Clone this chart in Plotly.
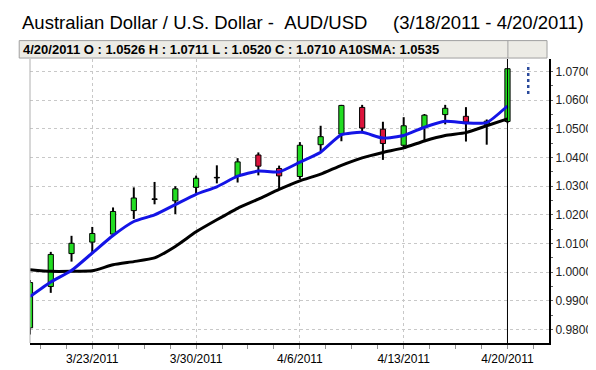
import plotly.graph_objects as go

# ---- data ----
dates = ["3/18/2011", "3/21/2011", "3/22/2011", "3/23/2011", "3/24/2011", "3/25/2011",
         "3/28/2011", "3/29/2011", "3/30/2011", "3/31/2011", "4/1/2011",
         "4/4/2011", "4/5/2011", "4/6/2011", "4/7/2011", "4/8/2011",
         "4/11/2011", "4/12/2011", "4/13/2011", "4/14/2011", "4/15/2011",
         "4/18/2011", "4/19/2011", "4/20/2011"]
opens = [0.9806, 0.9950, 1.0065, 1.0105, 1.0133, 1.0215, 1.0256, 1.0249, 1.0296, 1.0331, 1.0335,
         1.0409, 1.0362, 1.0334, 1.0445, 1.0482, 1.0575, 1.0499, 1.0443, 1.0505, 1.0550,
         1.0544, 1.0516, 1.0526]
highs = [0.9973, 1.0071, 1.0127, 1.0158, 1.0226, 1.0296, 1.0315, 1.0300, 1.0337, 1.0373, 1.0398,
         1.0418, 1.0372, 1.0454, 1.0511, 1.0584, 1.0584, 1.0525, 1.0541, 1.0552, 1.0584,
         1.0576, 1.0533, 1.0711]
lows = [0.9783, 0.9928, 1.0037, 1.0067, 1.0126, 1.0186, 1.0237, 1.0203, 1.0276, 1.0310, 1.0313,
        1.0338, 1.0291, 1.0325, 1.0423, 1.0457, 1.0485, 1.0392, 1.0435, 1.0460, 1.0516,
        1.0456, 1.0445, 1.0520]
closes = [0.9964, 1.0062, 1.0101, 1.0135, 1.0212, 1.0259, 1.0254, 1.0291, 1.0328, 1.0329, 1.0385,
          1.0370, 1.0336, 1.0443, 1.0473, 1.0582, 1.0503, 1.0449, 1.0511, 1.0548, 1.0572,
          1.0524, 1.0527, 1.0710]
short_ma = [0.9915, 0.9966, 1.0006, 1.0067, 1.0128, 1.0177, 1.0200, 1.0236, 1.0272, 1.0298, 1.0335,
            1.0353, 1.0350, 1.0384, 1.0419, 1.0480, 1.0488, 1.0468, 1.0477, 1.0506, 1.0527,
            1.0521, 1.0522, 1.0580]
sma10 = [1.0009, 1.0003, 1.0003, 1.0005, 1.0026, 1.0037, 1.0050, 1.0090, 1.0141, 1.0183, 1.0223,
         1.0255, 1.0289, 1.0319, 1.0342, 1.0373, 1.0399, 1.0418, 1.0434, 1.0458, 1.0477,
         1.0487, 1.0511, 1.0535]
next_range = [1.0622, 1.0727]          # dotted marker one session after the last bar
x_tick_labels = ["3/23/2011", "3/30/2011", "4/6/2011", "4/13/2011", "4/20/2011"]
y_tick_labels = ["0.9800", "0.9900", "1.0000", "1.0100", "1.0200",
                 "1.0300", "1.0400", "1.0500", "1.0600", "1.0700"]
title_text = "Australian Dollar / U.S. Dollar -  AUD/USD     (3/18/2011 - 4/20/2011)"

# ---- derived ----
idx = list(range(len(dates)))
UP, DOWN, FLAT = "#22dd22", "#dc143c", "#000000"
colors = []
for o, c in zip(opens, closes):
    if abs(c - o) <= 0.0002:
        colors.append(FLAT)
    elif c > o:
        colors.append(UP)
    else:
        colors.append(DOWN)

wx, wy = [], []
for i, o, h, l, c in zip(idx, opens, highs, lows, closes):
    wx += [i, i, None, i, i, None]
    wy += [h, max(o, c), None, min(o, c), l, None]

font = "Liberation Sans, Arial, sans-serif"
fig = go.Figure()

fig.add_trace(go.Bar(x=idx, y=[c - o for o, c in zip(opens, closes)], base=opens,
                     width=0.25, marker=dict(color=colors, line=dict(color="black", width=1)),
                     hoverinfo="skip"))
fig.add_trace(go.Scatter(x=wx, y=wy, mode="lines", line=dict(color="black", width=2),
                         hoverinfo="skip"))
fig.add_trace(go.Scatter(x=idx, y=sma10, mode="lines",
                         line=dict(color="black", width=3, shape="spline", smoothing=0.5)))
fig.add_trace(go.Scatter(x=idx, y=short_ma, mode="lines",
                         line=dict(color="#1414e6", width=3, shape="spline", smoothing=0.5)))
fig.add_trace(go.Scatter(x=[len(dates), len(dates)], y=next_range, mode="lines",
                         line=dict(color="#2b4a9c", width=2.5, dash="dot")))

last = len(dates) - 1
fig.add_vline(x=last, line=dict(color="black", width=1))

# header bar
fig.add_shape(type="rect", xref="paper", yref="paper", x0=-0.0208, x1=0.9962, y0=1.0034, y1=1.0648,
              fillcolor="#ecebe5", line=dict(color="#a0a0a0", width=1), layer="above")
fig.add_shape(type="line", xref="paper", yref="paper", x0=0.9208, x1=0.9208, y0=1.0034, y1=1.0648,
              line=dict(color="#a0a0a0", width=1))
# thin left frame line
fig.add_shape(type="line", xref="paper", yref="paper", x0=0, x1=0, y0=0, y1=1,
              line=dict(color="#b0b0b0", width=1))

header = "%s O : %.4f H : %.4f L : %.4f C : %.4f A10SMA: %.4f" % (
    dates[last], opens[last], highs[last], lows[last], closes[last], sma10[last])
fig.add_annotation(text=header, xref="paper", yref="paper", x=-0.017, y=1.034,
                   xanchor="left", yanchor="middle", showarrow=False,
                   font=dict(family=font, size=13, color="black", weight="bold"))
fig.add_annotation(text=title_text.replace(" ", "\u00a0"), xref="paper", yref="paper",
                   x=-0.0189, y=1.1297, xanchor="left", yanchor="middle", showarrow=False,
                   font=dict(family=font, size=18.5, color="black"))

fig.update_layout(
    width=596, height=370,
    margin=dict(l=22, r=44, t=51, b=26),
    plot_bgcolor="white", paper_bgcolor="white",
    showlegend=False,
    xaxis=dict(range=[0, 25], tickvals=[dates.index(d) for d in x_tick_labels],
               ticktext=x_tick_labels, ticks="outside", ticklen=4, tickcolor="#909090",
               showline=True, linecolor="black", linewidth=2,
               showgrid=True, gridcolor="#c8c8c8", griddash="dot", gridwidth=1,
               zeroline=False, tickfont=dict(family=font, size=12, color="black"),
               minor=dict(ticks="outside", ticklen=4, tick0=0.5, dtick=1.25,
                          tickcolor="#909090", showgrid=False)),
    yaxis=dict(range=[0.9753, 1.0744], side="right",
               tickvals=[float(t) for t in y_tick_labels], ticktext=y_tick_labels,
               ticks="outside", ticklen=2, tickcolor="#606060",
               showline=True, linecolor="black", linewidth=2,
               showgrid=True, gridcolor="#c8c8c8", griddash="dot", gridwidth=1,
               zeroline=False, tickfont=dict(family=font, size=12, color="#222"),
               minor=dict(ticks="outside", ticklen=2, tick0=0.975, dtick=0.005,
                          tickcolor="#606060", showgrid=False)),
)

fig.write_html("out.html")
